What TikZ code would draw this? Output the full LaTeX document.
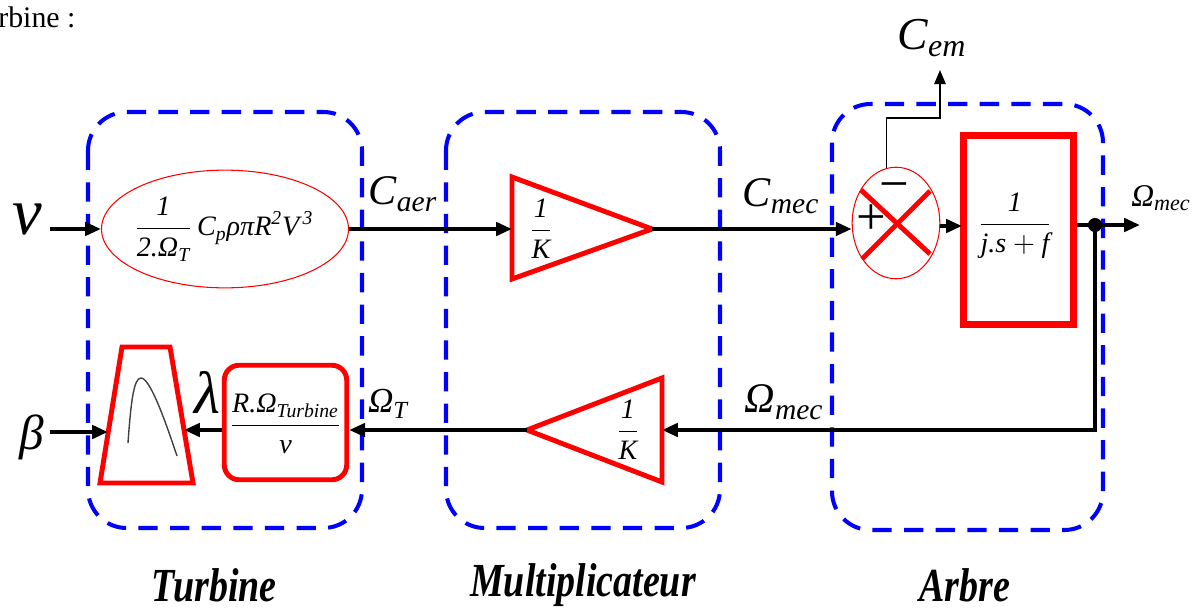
\documentclass[tikz,border=0pt]{standalone}
\usepackage{amsmath}
\usepackage{fontspec}
\setmainfont{Liberation Serif}
\usetikzlibrary{arrows.meta,shapes.geometric,calc}
\newcommand\ti[1]{\text{\itshape #1}}
\begin{document}
\begin{tikzpicture}[x=0.02cm,y=-0.02cm,
  grp/.style={draw=blue,line width=2.3pt,dash pattern=on 11pt off 7pt,rounded corners=22pt},
  sig/.style={line width=2.2pt,-{Triangle[length=9pt,width=7.5pt]}},
  fb/.style={line width=2.8pt},
  redthick/.style={draw=red,line width=2.8pt,line join=miter},
  fml/.style={font=\fontsize{16}{19}\selectfont,inner sep=0pt},
  lbl/.style={font=\fontsize{24}{28}\selectfont,inner sep=0pt},
  grplabel/.style={font=\fontsize{27}{30}\selectfont\bfseries\itshape,inner sep=0pt}
]
\useasboundingbox (0,0) rectangle (1201,612);

% heading fragment
\node[anchor=west,font=\fontsize{17}{20}\selectfont,inner sep=0pt] (head) at (-2,17) {rbine :};

% group boxes
\draw[grp] (88,112) rectangle (362,528);
\draw[grp] (446,112) rectangle (720,528);
\draw[grp] (832,104) rectangle (1103,530);

\node[grplabel] (gT) at (214,585) {\scalebox{0.8}[1]{Turbine}};
\node[grplabel] (gM) at (583,585) {\scalebox{0.8}[1]{Multiplicateur}};
\node[grplabel] (gA) at (965,585) {\scalebox{0.8}[1]{Arbre}};

% aerodynamic torque ellipse
\node[ellipse,draw=red,line width=0.6pt,minimum width=140.6pt,minimum height=67pt,inner sep=0pt] (aero) at (225,229) {};
\node[fml] (aerot) at (224,229) {$\dfrac{\ti{1}}{\ti{2.Ω}_{\ti{T}}}\,\ti{C}_{\ti{p}}\ti{ρπR}^{\ti{2}}\ti{V}^{\,\ti{3}}$};

% input v
\coordinate (vin) at (50,229);
\node[font=\fontsize{38}{40}\selectfont\itshape,inner sep=0pt] (vlab) at (27,220) {v};
\draw[sig] (vin) -- (aero.west);

% gain triangle 1
\coordinate (t1in) at (512,229);
\coordinate (t1out) at (652,229);
\draw[redthick] (512,177) -- (t1out) -- (512,279) -- cycle;
\node[fml] (k1) at (541,229) {$\dfrac{\ti{1}}{\ti{K}}$};
\draw[sig] (aero.east) -- (t1in);
\node[lbl] (caer) at (403,194) {$\ti{C}_{\ti{aer}}$};

% summation
\node[ellipse,draw=red,line width=0.6pt,minimum width=49.9pt,minimum height=63.5pt,inner sep=0pt] (sum) at (896,223) {};
\draw[red,line width=2.8pt] (861,190) -- (930,254);
\draw[red,line width=2.8pt] (862,259) -- (930,191);
\node[font=\fontsize{30}{30}\selectfont,inner sep=0pt] (minus) at (894,192) {−};
\node[font=\fontsize{30}{30}\selectfont,inner sep=0pt] (plus) at (871,220) {+};
\draw[sig] (t1out) -- (sum.west |- t1out);
\node[lbl] (cmec) at (781,196) {$\ti{C}_{\ti{mec}}$};

% Cem output
\coordinate (cemtip) at (940,70);
\draw[line width=0.9pt,-{Triangle[length=8pt,width=6.5pt]}] (sum.100) -- ++(0,-50) -| (cemtip);
\node[font=\fontsize{26}{28}\selectfont,inner sep=0pt] (cem) at (932,38) {$\ti{C}_{\ti{em}}$};

% mechanical block
\node[draw=red,line width=4pt,minimum width=63pt,minimum height=107.7pt,inner sep=0pt] (blk) at (1018.5,230) {};
\node[fml] (blkt) at (1015,226) {$\dfrac{\ti{1}}{\ti{j.s}+\ti{f}}$};
\coordinate (blkin) at (962,226);
\draw[sig] (sum.east |- blkin) -- (blkin);

% output
\node[circle,fill=black,minimum size=8pt,inner sep=0pt] (dot) at (1095,225) {};
\coordinate (omout) at (1140,225);
\draw[sig] (blk.east |- omout) -- (omout);
\node[font=\fontsize{18}{20}\selectfont,inner sep=0pt] (omlab) at (1161,198) {$\ti{Ω}_{\ti{mec}}$};

% feedback
\coordinate (t2in) at (662,430);
\coordinate (t2out) at (527,430);
\draw[fb,-{Triangle[length=9pt,width=7.5pt]}] (dot.center) |- (t2in);
\draw[redthick] (662,378) -- (t2out) -- (662,482) -- cycle;
\node[fml] (k2) at (628,430) {$\dfrac{\ti{1}}{\ti{K}}$};
\node[lbl] (ommec) at (784,402) {$\ti{Ω}_{\ti{mec}}$};

% speed ratio block
\node[draw=red,line width=2.8pt,rounded corners=8.5pt,minimum width=69.7pt,minimum height=65.2pt,inner sep=0pt] (ratio) at (285.5,422.5) {};
\node[fml] (ratiot) at (285.5,424) {$\dfrac{\ti{R.Ω}_{\ti{Turbine}}}{\ti{v}}$};
\draw[sig] (t2out) -- (ratio.east |- t2out);
\node[font=\fontsize{20}{22}\selectfont,inner sep=0pt] (omT) at (388,404) {$\ti{Ω}_{\ti{T}}$};

% Cp table (trapezoid)
\coordinate (trapR) at (184,430);
\coordinate (trapL) at (108,432);
\draw[redthick] (122,347) -- (170,347) -- (193,483) -- (100,483) -- cycle;
\draw[black!75,line width=0.8pt] (128,443) .. controls (131,400) and (134,378) .. (141,378) .. controls (150,378) and (165,420) .. (177,456);
\draw[sig] (ratio.west |- trapR) -- (trapR);
\node[font=\fontsize{34}{36}\selectfont\itshape,inner sep=0pt] (lam) at (207,392) {λ};

% beta input
\coordinate (bin) at (50,432);
\draw[sig] (bin) -- (trapL);
\node[font=\fontsize{28}{30}\selectfont\itshape,inner sep=0pt] (blab) at (32,437) {β};
\end{tikzpicture}
\end{document}
